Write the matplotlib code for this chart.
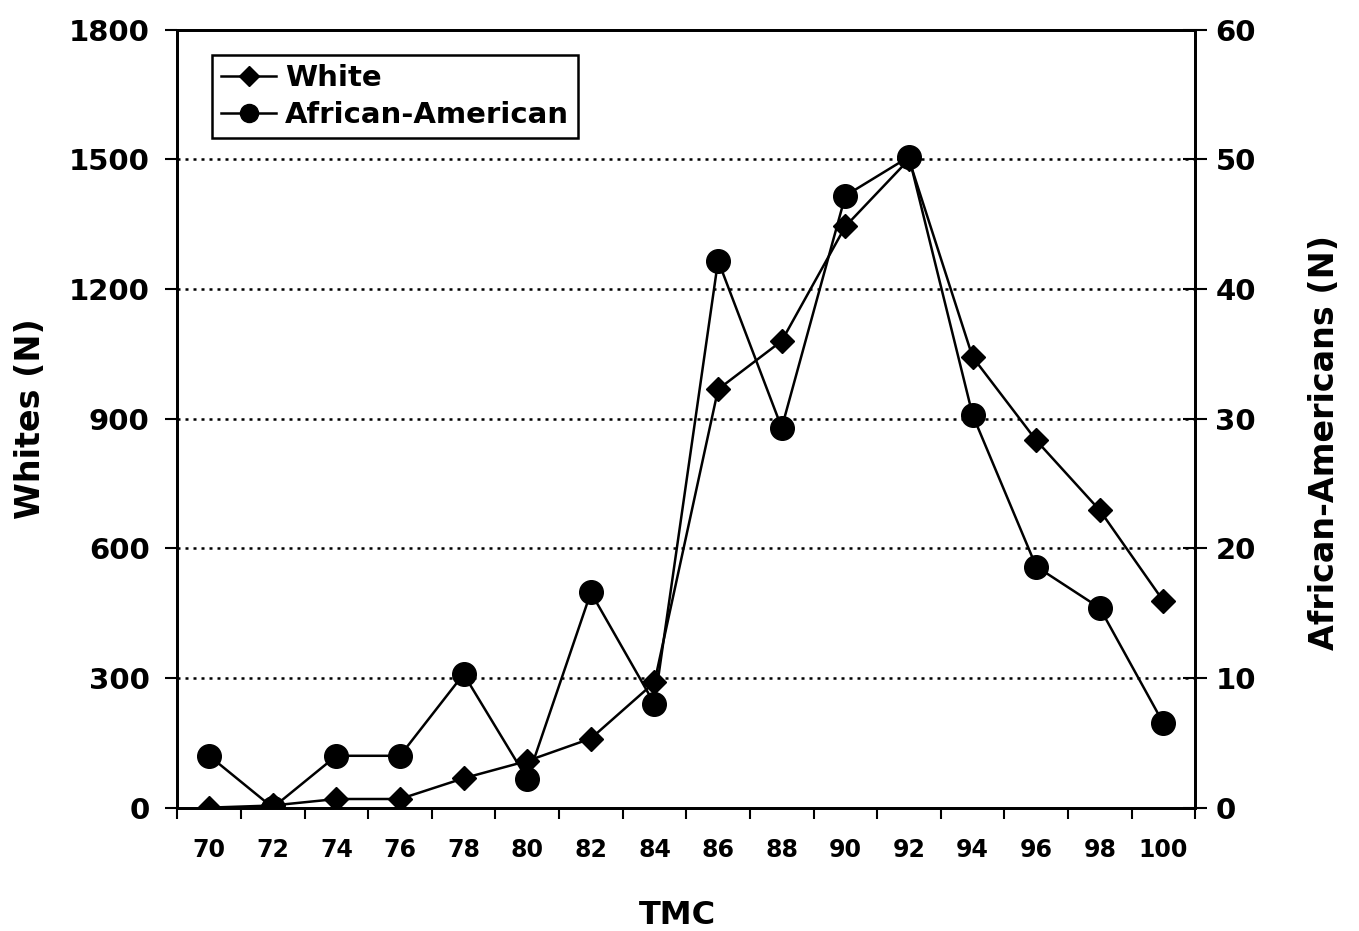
import matplotlib
matplotlib.use("Agg")
import matplotlib.pyplot as plt
from matplotlib.lines import Line2D

plt.rcParams['font.family'] = ['DejaVu Sans']
plt.rcParams['font.weight'] = 'bold'

# TMC categories
tmc = [70, 72, 74, 76, 78, 80, 82, 84, 86, 88, 90, 92, 94, 96, 98, 100]
# Whites (left axis)
white = [0, 5, 20, 20, 68, 108, 160, 290, 968, 1080, 1345, 1500, 1043, 850, 688, 478]
# African-Americans (right axis)
african_american = [4, 0, 4, 4, 10.3, 2.2, 16.6, 8, 42.2, 29.3, 47.2, 50.2, 30.3, 18.6, 15.4, 6.5]

fig = plt.figure(figsize=(13.59, 9.31), dpi=100)
ax = fig.add_axes([0.1305, 0.1325, 0.749, 0.8355])
ax2 = ax.twinx()

x = list(range(len(tmc)))

ax.plot(x, white, color='black', lw=1.8, marker='D', markersize=12, zorder=3)
ax2.plot(x, african_american, color='black', lw=1.8, marker='o', markersize=17, zorder=3)

ax.set_xlim(-0.5, len(tmc) - 0.5)
ax.set_ylim(0, 1800)
ax2.set_ylim(0, 60)

ax.set_yticks([0, 300, 600, 900, 1200, 1500, 1800])
ax2.set_yticks([0, 10, 20, 30, 40, 50, 60])
ax.set_xticks(x)
ax.set_xticklabels([str(t) for t in tmc])
ax.set_xticks([i - 0.5 for i in range(len(tmc) + 1)], minor=True)

# dotted horizontal gridlines
for v in [300, 600, 900, 1200, 1500]:
    ax.axhline(v, color='black', lw=1.8, ls=(0, (1.2, 2.0)), zorder=1)

ax.tick_params(axis='x', which='major', length=0, pad=22, labelsize=17)
ax.tick_params(axis='x', which='minor', direction='out', length=8, width=1.5)
ax.tick_params(axis='y', direction='out', length=9, width=1.5, labelsize=21, pad=11)
ax2.tick_params(axis='y', direction='inout', length=17, width=1.5, labelsize=21, pad=6)

for sp in ax.spines.values():
    sp.set_linewidth(2)
for sp in ax2.spines.values():
    sp.set_linewidth(2)

ax.set_xlabel('TMC', fontsize=23, fontweight='bold')
ax.xaxis.set_label_coords(0.491, -0.119)
ax.set_ylabel('Whites (N)', fontsize=24, fontweight='bold')
ax.yaxis.set_label_coords(-0.128, 0.5)
ax2.set_ylabel('African-Americans (N)', fontsize=24, fontweight='bold')
ax2.yaxis.set_label_coords(1.111, 0.47)

handles = [
    Line2D([], [], color='black', lw=1.8, marker='D', markersize=10),
    Line2D([], [], color='black', lw=1.8, marker='o', markersize=13),
]
leg = ax2.legend(handles, ['White', 'African-American'], loc='upper left',
                 bbox_to_anchor=(0.02, 0.986), frameon=True, fancybox=False,
                 framealpha=1, edgecolor='black', handlelength=1.9,
                 handletextpad=0.3, borderpad=0.3, labelspacing=0.3,
                 prop={'weight': 'bold', 'size': 21})
leg.get_frame().set_linewidth(1.8)

fig.savefig('out.png', dpi=100)
